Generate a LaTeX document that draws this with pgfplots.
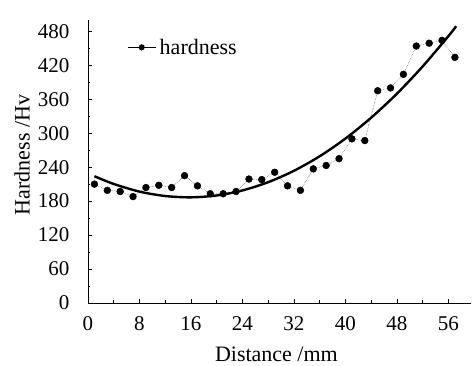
\documentclass[border=0pt]{standalone}
\usepackage{pgfplots}
\pgfplotsset{compat=1.18}
\usepackage{fontspec}
\setmainfont{Liberation Serif}
\pgfplotstableread{
x y
1 210
3 199
5 197
7 188
9 204
11 208
13 204
15 225
17 207
19 193
21 193
23 197
25 219
27 218
29 231
31 207
33 199
35 237
37 243
39 255
41 290
43 287
45 375
47 380
49 404
51 454
53 459
55 464
57 434
}\hardness
\pgfplotstableread{
x y
1 224.0
4 210.3
8 196.8
12 189.0
16 186.7
20 190.0
24 198.9
28 213.5
32 233.6
36 259.3
40 290.6
44 327.5
48 369.9
52 418.1
56 471.7
57.2 489.0
}\fit
\begin{document}
\begin{tikzpicture}
\begin{axis}[
  scale only axis,
  width=383pt, height=283pt,
  at={(0,0)}, anchor=south west,
  xmin=0, xmax=59.5, ymin=0, ymax=500,
  axis x line=bottom, axis y line=left,
  axis line style={-, line width=0.8pt},
  xtick={0,8,...,56}, ytick={0,60,...,480},
  minor x tick num=1, minor y tick num=1,
  tick align=inside,
  major tick length=4pt, minor tick length=2.5pt,
  tick style={line width=0.6pt, black},
  /pgf/number format/assume math mode=true,
  ticklabel style={font=\fontsize{21}{22}\selectfont},
  xticklabel style={yshift=-10pt},
  yticklabel style={anchor=east, xshift=-15pt},
  xlabel={Distance /mm},
  ylabel={Hardness /Hv},
  label style={font=\fontsize{22}{24}\selectfont},
  xlabel style={at={(axis description cs:0.492,0)}, anchor=base, yshift=-58pt},
  ylabel style={at={(axis description cs:-0.172,0.523)}, anchor=center},
  legend style={at={(axis cs:6.05,451.6)}, anchor=west, draw=none, fill=none,
    inner sep=0pt, font=\fontsize{22}{24}\selectfont,
    nodes={inner xsep=3.5pt, inner ysep=0pt}},
  legend cell align=left,
  legend image code/.code={
    \draw[black, line width=1.1pt, solid] (0pt,0pt) -- (28pt,0pt);
    \fill[black] (14pt,0pt) circle (3pt);
  },
]
\addplot[black!75, line width=0.5pt, densely dotted, mark=*, mark size=3.4pt,
  mark options={solid, fill=black, draw=black}]
  table[x=x,y=y]{\hardness};
\addlegendentry{hardness}
\addplot[black, line width=2.4pt, smooth, forget plot] table[x=x,y=y]{\fit};
\end{axis}
\pgfresetboundingbox
\path (-88pt,-63pt) rectangle (385pt,303pt);
\end{tikzpicture}
\end{document}
